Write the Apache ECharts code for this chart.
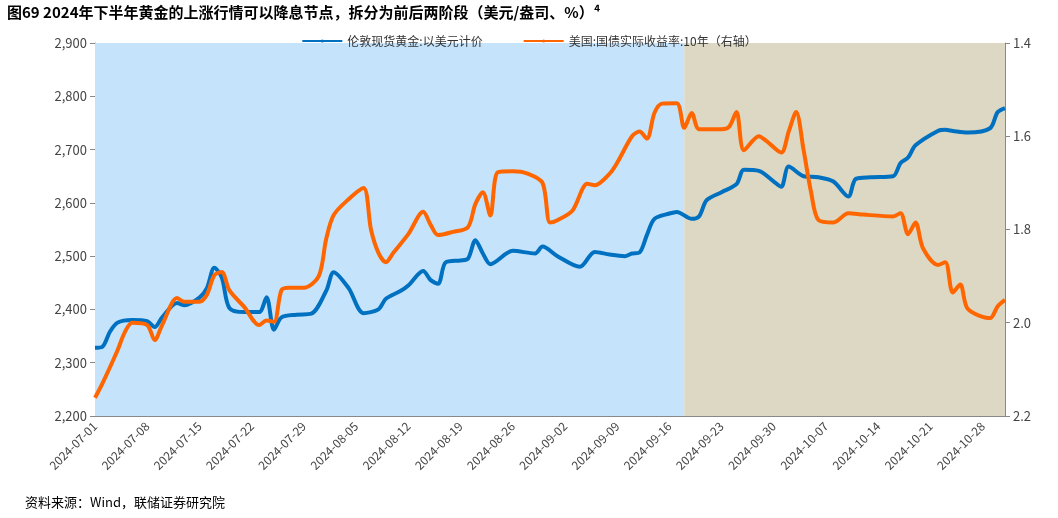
<!DOCTYPE html>
<html>
<head>
<meta charset="UTF-8">
<script src="https://cdn.jsdelivr.net/npm/echarts@6/dist/echarts.min.js"></script>
</head>
<body style="margin:0;background:#fff;">
<div id="chart" style="width:1058px;height:518px;"></div>
<script>
// 日期：2024-07-01 至 2024-10-31（逐日）
var dates = [];
(function () {
  var d = new Date(Date.UTC(2024, 6, 1));
  for (var i = 0; i < 123; i++) {
    dates.push(d.toISOString().slice(0, 10));
    d.setUTCDate(d.getUTCDate() + 1);
  }
})();

// 伦敦现货黄金（日序号, 美元）
var goldIdx = [0,1,2,3,5,7,8,9,11,12,14,15,16,17,18,20,22,23,24,25,27,29,31,32,34,36,38,39,41,42,44,45,46,47,49,50,51,52,53,56,59,60,62,65,67,69,71,72,73,74,75,77,78,80,81,82,84,86,87,89,91,92,93,95,97,99,101,102,104,107,108,109,110,113,114,115,117,120,121,122];
var goldVal = [2328,2330,2358,2375,2380,2378,2367,2385,2412,2408,2422,2440,2478,2460,2403,2395,2395,2423,2362,2385,2390,2392,2435,2470,2440,2393,2400,2420,2435,2445,2472,2455,2448,2488,2492,2495,2530,2505,2485,2510,2505,2518,2500,2480,2508,2503,2500,2505,2507,2540,2570,2580,2583,2570,2575,2605,2620,2635,2662,2660,2640,2630,2668,2650,2648,2640,2612,2645,2648,2650,2675,2685,2708,2735,2737,2735,2732,2740,2770,2778];

// 美国10年期国债实际收益率（日序号, %）
var yieldIdx = [0,1,3,4,5,7,8,9,11,12,14,15,16,17,18,20,22,23,24,25,26,28,30,31,32,34,36,37,38,39,40,42,44,45,46,48,50,51,52,53,54,56,58,60,61,62,64,66,67,69,70,72,73,74,75,76,78,79,80,81,84,85,86,87,89,90,92,93,94,95,96,97,99,101,103,107,108,109,110,111,113,114,115,116,117,120,121,122];
var yieldVal = [2.161,2.13,2.06,2.02,2.0,2.005,2.037,2.005,1.947,1.955,1.955,1.94,1.898,1.891,1.93,1.966,2.005,1.995,1.998,1.93,1.925,1.925,1.9,1.82,1.769,1.735,1.711,1.8,1.85,1.87,1.85,1.81,1.762,1.79,1.812,1.805,1.795,1.745,1.72,1.77,1.677,1.675,1.68,1.7,1.785,1.78,1.76,1.702,1.705,1.68,1.657,1.6,1.59,1.605,1.55,1.53,1.529,1.582,1.55,1.585,1.585,1.58,1.548,1.63,1.6,1.61,1.635,1.59,1.548,1.63,1.72,1.78,1.785,1.765,1.768,1.772,1.765,1.81,1.785,1.84,1.876,1.87,1.935,1.918,1.97,1.99,1.965,1.951];

function pairs(idx, val) { return idx.map(function (x, i) { return [x, val[i]]; }); }

var font = '"Noto Sans CJK SC", "Liberation Sans", sans-serif';
var chart = echarts.init(document.getElementById('chart'));
chart.setOption({
  animation: false,
  textStyle: { fontFamily: font },
  title: [
    { text: '图69 2024年下半年黄金的上涨行情可以降息节点，拆分为前后两阶段（美元/盎司、%）⁴', left: 2, top: 0,
      textStyle: { fontSize: 15, fontWeight: 'bold', color: '#000', fontFamily: font } },
    { text: '资料来源：Wind，联储证券研究院', left: 20, bottom: 4,
      textStyle: { fontSize: 13, fontWeight: 'normal', color: '#000', fontFamily: font } }
  ],
  legend: {
    top: 30, left: 'center', itemGap: 40, itemWidth: 40, itemHeight: 4,
    textStyle: { fontSize: 12, color: '#333' },
    data: ['伦敦现货黄金:以美元计价', '美国:国债实际收益率:10年（右轴）']
  },
  grid: { left: 95, right: 53, top: 43, bottom: 102 },
  xAxis: {
    type: 'category', data: dates, boundaryGap: false,
    axisLine: { lineStyle: { color: '#888' } },
    axisTick: { show: false },
    axisLabel: { interval: 6, rotate: 45, color: '#444', fontSize: 12 }
  },
  yAxis: [
    { type: 'value', min: 2200, max: 2900, interval: 100, splitLine: { show: false },
      axisLine: { show: true, lineStyle: { color: '#888' } }, axisTick: { show: true },
      axisLabel: { color: '#444', fontSize: 13, formatter: function (v) { return v.toLocaleString('en-US'); } } },
    { type: 'value', min: 1.4, max: 2.2, interval: 0.2, inverse: true, splitLine: { show: false },
      axisLine: { show: true, lineStyle: { color: '#888' } }, axisTick: { show: true },
      axisLabel: { color: '#444', fontSize: 13, formatter: function (v) { return v.toFixed(1); } } }
  ],
  series: [
    { name: '伦敦现货黄金:以美元计价', type: 'line', yAxisIndex: 0, smooth: 0.3, symbol: 'none',
      color: '#0070C0', lineStyle: { width: 4 }, data: pairs(goldIdx, goldVal),
      markArea: { silent: true, data: [
        [{ xAxis: 0, itemStyle: { color: '#C5E4FC' } }, { xAxis: 78.5 }],
        [{ xAxis: 78.5, itemStyle: { color: '#DDD8C4' } }, { xAxis: 122 }]
      ] } },
    { name: '美国:国债实际收益率:10年（右轴）', type: 'line', yAxisIndex: 1, smooth: 0.3, symbol: 'none',
      color: '#FF6600', lineStyle: { width: 4 }, data: pairs(yieldIdx, yieldVal) }
  ]
});
</script>
</body>
</html>
